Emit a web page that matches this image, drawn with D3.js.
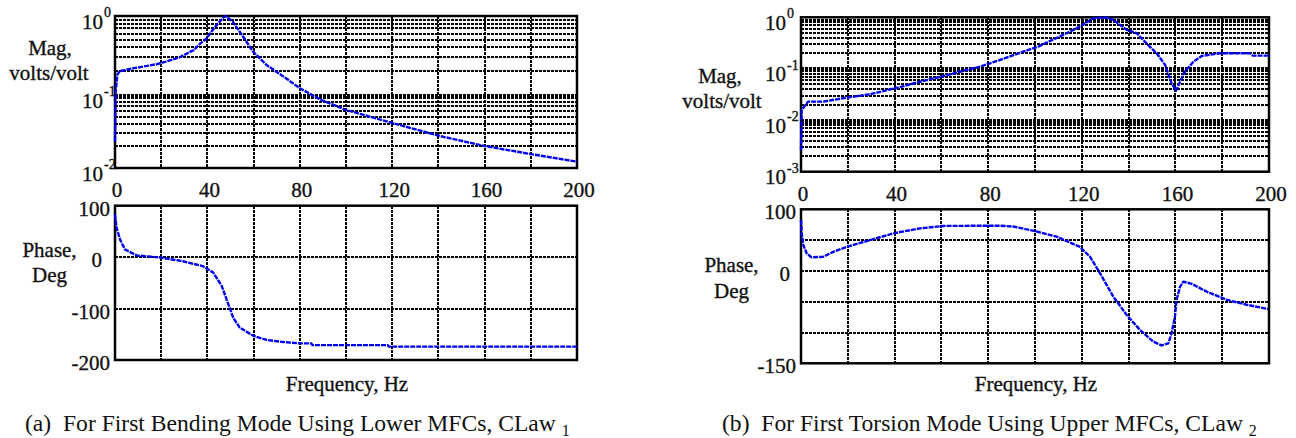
<!DOCTYPE html>
<html>
<head>
<meta charset="utf-8">
<script src="https://cdn.jsdelivr.net/npm/d3@7"></script>
<style>
body { margin: 0; background: #fff; }
</style>
</head>
<body>
<svg id="chart" width="1296" height="438"></svg>
<script>
/* DATA */
const freqTicks = [0, 40, 80, 120, 160, 200]
const freqGrid = [20, 40, 60, 80, 100, 120, 140, 160, 180]

// (a) first bending mode, lower MFCs
const magA_freq = [0, 0.3, 1, 2, 8, 18, 22, 28, 34, 37, 39.7, 42.2, 44.5, 47.6, 51, 55.4, 59.8, 65.6, 74, 80, 88.7, 100.3, 120.5, 140.7, 160, 179.6, 200]
const magA_val = [0.023, 0.11, 0.18, 0.2, 0.218, 0.245, 0.264, 0.30, 0.37, 0.45, 0.52, 0.66, 0.8, 1.0, 0.85, 0.55, 0.353, 0.24, 0.163, 0.122, 0.087, 0.062, 0.041, 0.0274, 0.02, 0.0156, 0.0122]
const phaseA_freq = [0, 0.7, 2.2, 4.3, 9.4, 20, 29.4, 38, 42.5, 46.2, 48.3, 51.2, 54, 59.9, 65.7, 72.9, 80, 85, 85.5, 118, 118.5, 200]
const phaseA_val = [83, 57, 34, 15, 3.3, -1, -8, -17.5, -30, -56, -82, -118, -137, -153, -161, -165, -167.6, -167.6, -171, -171, -174, -174]
const magA_ticks = [1, 0.1, 0.01]
const phaseA_ticks = [100, 0, -100, -200]
const phaseA_grid = [0, -100]

// (b) first torsion mode, upper MFCs
const magB_freq = [0, 0.3, 3, 9.5, 19.5, 29.5, 40.2, 50.9, 60.8, 70.8, 76.5, 85, 95, 101.4, 113.5, 119.2, 125, 130.7, 133.5, 139.2, 143.5, 147.7, 152, 155.6, 158.4, 160.3, 162, 164, 167.7, 171.2, 179, 191.9, 193, 200]
const magB_val = [0.0026, 0.0159, 0.023, 0.023, 0.0275, 0.032, 0.0418, 0.056, 0.072, 0.095, 0.11, 0.148, 0.215, 0.27, 0.49, 0.66, 0.96, 0.99, 0.89, 0.57, 0.49, 0.31, 0.2, 0.119, 0.052, 0.0376, 0.056, 0.088, 0.137, 0.177, 0.2, 0.2, 0.18, 0.18]
const phaseB_freq = [0, 0.3, 1, 2.4, 4.5, 9.5, 13.8, 19.5, 29.5, 39.5, 50.9, 60.8, 85, 90.7, 100.7, 109.3, 119.2, 123.5, 127.8, 133.5, 139.2, 144.9, 150.6, 154.1, 157, 158.4, 159.8, 160.5, 162, 163.4, 167, 173.4, 182, 190.5, 199.7]
const phaseB_val = [82.6, 61, 42, 28.6, 22, 23, 31, 39, 50, 61, 69, 73, 73.4, 72, 64, 55.6, 39, 23, -4, -42, -71.6, -96, -115, -121, -117.5, -101, -74, -47, -25.6, -17.5, -21, -33.7, -47, -55, -62]
const magB_ticks = [1, 0.1, 0.01, 0.001]
const phaseB_ticks = [100, 0, -150]
const phaseB_grid = [50, 0, -50, -100]

const svg = d3.select("#chart")
const BLUE = "#0000f5"
const INK = "#111"
const FONT = "'Liberation Serif'"

function logGrid(lo, hi) {
    // minor lines of a log axis: k * 10^d
    var out = []
    for (let d = Math.round(Math.log10(lo)); d < Math.round(Math.log10(hi)); d++) {
        for (let k = 1; k <= 9; k++) out.push(k * Math.pow(10, d))
    }
    return out
}

function gridLine(sel) {
    sel.attr("stroke", "#000").attr("stroke-width", 2).attr("stroke-dasharray", "3,1")
        .attr("shape-rendering", "crispEdges")
}

// every text gets the serif font inline; axis text a touch heavier like the print
function txt(parent, size, heavy) {
    const t = parent.append("text").style("font-family", FONT).style("font-size", size + "px").attr("fill", INK)
    if (heavy) t.attr("stroke", INK).attr("stroke-width", 0.35)
    return t
}

function drawPanel(p) {
    const g = svg.append("g")
    const x = d3.scaleLinear().domain([0, 200]).range([p.left, p.right])
    const yM = d3.scaleLog().domain(p.magDomain).range(p.magRange)
    const yP = d3.scaleLinear().domain(p.phDomain).range([p.phBottom, p.phTop])
    const magTop = d3.min(p.magRange), magBot = d3.max(p.magRange)

    // ---- magnitude grid
    const gm = g.append("g")
    gm.selectAll("line.v").data(freqGrid).enter().append("line")
        .attr("x1", d => x(d)).attr("x2", d => x(d))
        .attr("y1", magTop).attr("y2", magBot)
        .call(gridLine)
    gm.selectAll("line.h").data(logGrid(p.magDomain[0], p.magDomain[p.magDomain.length - 1]).filter(v => v > p.magDomain[0]))
        .enter().append("line")
        .attr("x1", p.left).attr("x2", p.right)
        .attr("y1", d => yM(d)).attr("y2", d => yM(d))
        .call(gridLine)
        .attr("stroke-width", d => Math.abs(Math.log10(d) - Math.round(Math.log10(d))) < 1e-6 ? 3 : 2)
    g.append("rect").attr("x", p.left).attr("y", magTop)
        .attr("width", p.right - p.left).attr("height", magBot - magTop)
        .attr("fill", "none").attr("stroke", "#000").attr("stroke-width", 2.5)

    // magnitude tick labels 10^n
    p.magTicks.forEach(v => {
        const e = Math.round(Math.log10(v))
        txt(g, 21, true).attr("x", p.left - p.magLabelPad).attr("y", yM(v) + 12.5)
            .attr("text-anchor", "end").text("10")
        txt(g, 14, true).attr("x", p.left - p.magLabelPad + 1).attr("y", yM(v) + 1)
            .attr("text-anchor", "start").text(String(e))
    })

    // frequency tick labels
    freqTicks.forEach(f => {
        txt(g, 21, true).attr("x", x(f) + 2).attr("y", magBot + 29)
            .attr("text-anchor", "middle").text(f)
    })

    // ---- phase grid
    const gp = g.append("g")
    gp.selectAll("line.v").data(freqGrid).enter().append("line")
        .attr("x1", d => x(d)).attr("x2", d => x(d))
        .attr("y1", p.phTop).attr("y2", p.phBottom)
        .call(gridLine)
    gp.selectAll("line.h").data(p.phGrid).enter().append("line")
        .attr("x1", p.left).attr("x2", p.right)
        .attr("y1", d => yP(d)).attr("y2", d => yP(d))
        .call(gridLine)
    g.append("rect").attr("x", p.left).attr("y", p.phTop)
        .attr("width", p.right - p.left).attr("height", p.phBottom - p.phTop)
        .attr("fill", "none").attr("stroke", "#000").attr("stroke-width", 2.5)

    p.phTicks.forEach(v => {
        txt(g, 21, true).attr("x", p.left - (v === 0 ? p.zeroPad : 5)).attr("y", yP(v) + 10)
            .attr("text-anchor", "end").text(v)
    })

    // ---- curves
    const lineM = d3.line().x(d => x(d[0])).y(d => yM(d[1]))
    const lineP = d3.line().x(d => x(d[0])).y(d => yP(d[1]))
    g.append("path").attr("d", lineM(d3.zip(p.magFreq, p.magVal)))
        .attr("fill", "none").attr("stroke", BLUE).attr("stroke-width", 2.4)
        .attr("stroke-dasharray", "5,1").attr("stroke-linejoin", "round")
    g.append("path").attr("d", lineP(d3.zip(p.phFreq, p.phVal)))
        .attr("fill", "none").attr("stroke", BLUE).attr("stroke-width", 2.4)
        .attr("stroke-dasharray", "5,1").attr("stroke-linejoin", "round")

    // ---- axis titles
    txt(g, 21, true).attr("x", p.magLabel[0]).attr("y", p.magLabel[1]).attr("text-anchor", "middle").text("Mag,")
    txt(g, 21, true).attr("x", p.magLabel[2]).attr("y", p.magLabel[3]).attr("text-anchor", "middle").text("volts/volt")
    txt(g, 21, true).attr("x", p.phLabel[0]).attr("y", p.phLabel[1]).attr("text-anchor", "middle").text("Phase,")
    txt(g, 21, true).attr("x", p.phLabel[0]).attr("y", p.phLabel[2]).attr("text-anchor", "middle").text("Deg")
    txt(g, 21, true).attr("x", (p.left + p.right) / 2 + 1).attr("y", 391).attr("text-anchor", "middle")
        .text("Frequency, Hz")

    // ---- caption
    const c = txt(g, 23.6, false).attr("x", p.capX).attr("y", 431)
    c.append("tspan").text(p.caption)
    c.append("tspan").attr("dy", 5).style("font-size", "16px").text(p.capSub)
}

drawPanel({
    left: 115, right: 577,
    magDomain: [0.01, 0.1, 1], magRange: [168, 95, 16], magTicks: magA_ticks, magLabelPad: 12,
    phDomain: [-200, 100], phTop: 205.7, phBottom: 360, phGrid: phaseA_grid, phTicks: phaseA_ticks, zeroPad: 13,
    magFreq: magA_freq, magVal: magA_val, phFreq: phaseA_freq, phVal: phaseA_val,
    magLabel: [50, 55, 49, 80], phLabel: [49.5, 256.5, 281.5],
    capX: 25, caption: "(a)\u00a0\u00a0For First Bending Mode Using Lower MFCs, CLaw\u00a0", capSub: "1"
})

drawPanel({
    left: 801, right: 1269,
    magDomain: [0.001, 1], magRange: [171.7, 17.3], magTicks: magB_ticks, magLabelPad: 15,
    phDomain: [-150, 100], phTop: 209.3, phBottom: 363.3, phGrid: phaseB_grid, phTicks: phaseB_ticks, zeroPad: 11,
    magFreq: magB_freq, magVal: magB_val, phFreq: phaseB_freq, phVal: phaseB_val,
    magLabel: [720, 83, 722, 108], phLabel: [731.5, 271.5, 298],
    capX: 722, caption: "(b)\u00a0\u00a0For First Torsion Mode Using Upper MFCs, CLaw\u00a0", capSub: "2"
})
</script>
</body>
</html>
